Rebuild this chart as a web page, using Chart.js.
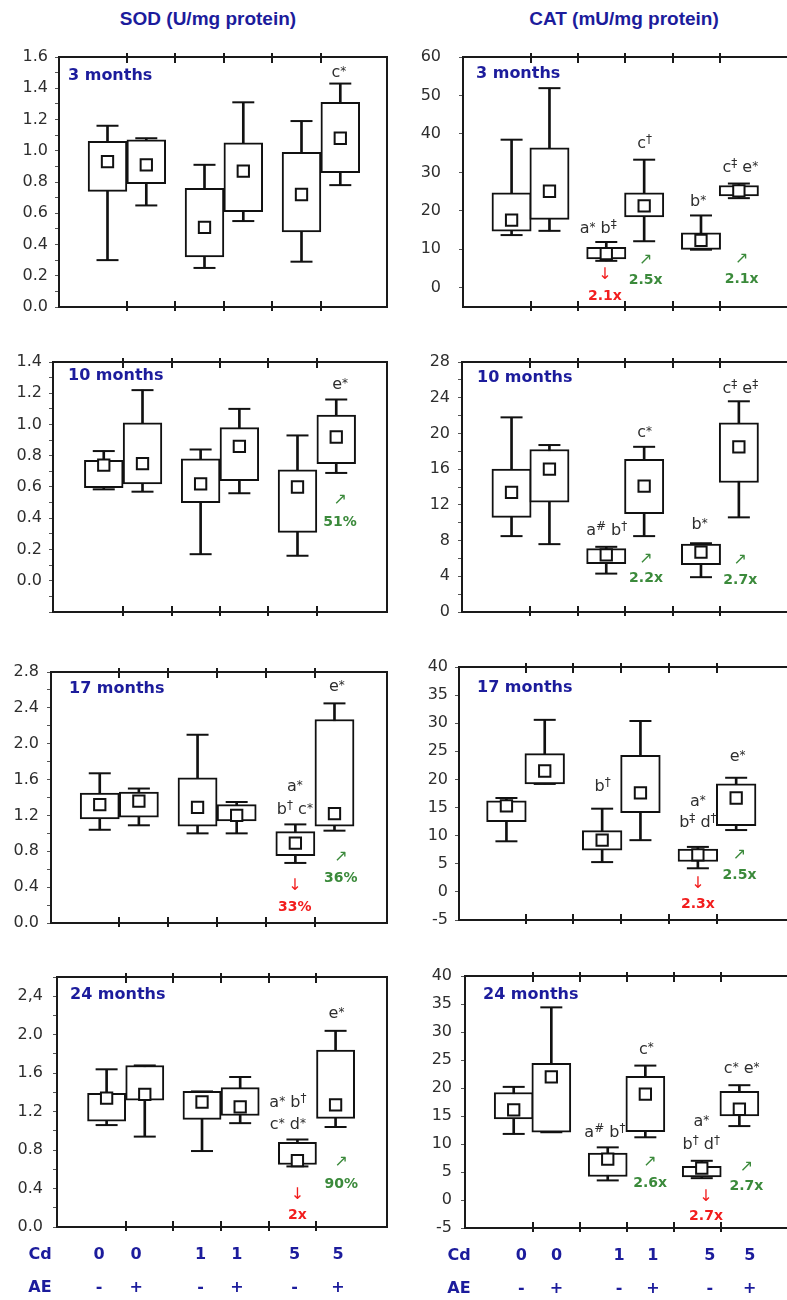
<!DOCTYPE html>
<html><head><meta charset="utf-8">
<script src="https://cdn.jsdelivr.net/npm/chart.js@4.4.0/dist/chart.umd.min.js"></script>
<style>
html,body{margin:0;padding:0;background:#fff;width:787px;height:1300px;overflow:hidden;position:relative}
canvas{position:absolute}
.hdr{position:absolute;top:8px;font:bold 19px "Liberation Sans Narrow","Liberation Sans",Arial,sans-serif;color:#1c1c9c;text-align:center;width:300px;white-space:nowrap}
</style></head><body>
<div class="hdr" style="left:58px">SOD (U/mg protein)</div>
<div class="hdr" style="left:474px">CAT (mU/mg protein)</div>
<script>
// ---------- categories ----------
const slotX = [1.0, 1.8, 3.0, 3.8, 5.0, 5.8];
const cdLabels = ['0','0','1','1','5','5'];
const aeLabels = ['-','+','-','+','-','+'];
const xTickMarks = [1.4, 2.4, 3.4, 4.4, 5.4];

// ---------- SOD 3 months ----------
const sod3Min = [0.30,0.65,0.25,0.55,0.29,0.78];
const sod3Q1  = [0.74,0.79,0.32,0.61,0.48,0.86];
const sod3Mid = [0.93,0.91,0.51,0.87,0.72,1.08];
const sod3Q3  = [1.06,1.07,0.76,1.05,0.99,1.31];
const sod3Max = [1.16,1.08,0.91,1.31,1.19,1.43];
const sod3Ticks = [0,0.2,0.4,0.6,0.8,1.0,1.2,1.4,1.6];
const sod3TickLabels = ['0.0','0.2','0.4','0.6','0.8','1.0','1.2','1.4','1.6'];
const sod3Notes = [[5.77,1.50,'c*','n']];

// ---------- CAT 3 months ----------
const cat3Min = [13.7,14.8,7.0,12.1,9.9,23.3];
const cat3Q1  = [14.7,17.8,7.5,18.4,10.0,23.9];
const cat3Mid = [17.6,25.1,8.9,21.3,12.3,25.2];
const cat3Q3  = [24.7,36.4,10.5,24.7,14.3,26.6];
const cat3Max = [38.5,51.9,11.9,33.3,18.8,27.1];
const cat3Ticks = [0,10,20,30,40,50,60];
const cat3TickLabels = ['0','10','20','30','40','50','60'];
const cat3Notes = [[2.83,15.4,'a* b‡','n'],[2.97,3.3,'↓','ra'],[2.97,-2.3,'2.1x','r'],[3.83,7.2,'↗','ga'],[3.83,2.0,'2.5x','g'],
  [3.81,37.5,'c†','n'],[4.94,22.3,'b*','n'],[5.83,31.2,'c‡ e*','n'],[5.86,7.6,'↗','ga'],[5.86,2.3,'2.1x','g']];

// ---------- SOD 10 months ----------
const sod10Min = [0.585,0.57,0.17,0.56,0.16,0.69];
const sod10Q1  = [0.595,0.62,0.50,0.64,0.31,0.75];
const sod10Mid = [0.74,0.75,0.62,0.86,0.60,0.92];
const sod10Q3  = [0.77,1.01,0.78,0.98,0.71,1.06];
const sod10Max = [0.83,1.22,0.84,1.10,0.93,1.16];
const sod10Ticks = [0,0.2,0.4,0.6,0.8,1.0,1.2,1.4];
const sod10TickLabels = ['0.0','0.2','0.4','0.6','0.8','1.0','1.2','1.4'];
const sod10Notes = [[5.88,1.256,'e*','n'],[5.88,0.52,'↗','ga'],[5.88,0.375,'51%','g']];

// ---------- CAT 10 months ----------
const cat10Min = [8.5,7.6,4.3,8.5,3.9,10.6];
const cat10Q1  = [10.6,12.3,5.4,11.0,5.3,14.5];
const cat10Mid = [13.4,16.0,6.4,14.1,6.7,18.5];
const cat10Q3  = [16.0,18.2,7.1,17.1,7.6,21.2];
const cat10Max = [21.8,18.7,7.3,18.5,7.7,23.6];
const cat10Ticks = [0,4,8,12,16,20,24,28];
const cat10TickLabels = ['0','4','8','12','16','20','24','28'];
const cat10Notes = [[3.01,9.06,'a# b†','n'],[3.84,6.0,'↗','ga'],[3.84,3.74,'2.2x','g'],[3.81,20.1,'c*','n'],[4.97,9.73,'b*','n'],
  [5.83,5.8,'↗','ga'],[5.83,3.56,'2.7x','g'],[5.83,25.0,'c‡ e‡','n']];

// ---------- SOD 17 months ----------
const sod17Min = [1.04,1.09,1.00,1.00,0.67,1.03];
const sod17Q1  = [1.16,1.18,1.08,1.14,0.75,1.08];
const sod17Mid = [1.32,1.36,1.29,1.20,0.89,1.22];
const sod17Q3  = [1.45,1.46,1.62,1.32,1.02,2.27];
const sod17Max = [1.67,1.50,2.10,1.35,1.10,2.45];
const sod17Ticks = [0,0.4,0.8,1.2,1.6,2.0,2.4,2.8];
const sod17TickLabels = ['0.0','0.4','0.8','1.2','1.6','2.0','2.4','2.8'];
const sod17Notes = [[4.99,1.517,'a*','n'],[4.99,1.264,'b† c*','n'],[4.99,0.42,'↓','ra'],[4.99,0.18,'33%','r'],
  [5.93,0.736,'↗','ga'],[5.93,0.495,'36%','g'],[5.85,2.633,'e*','n']];

// ---------- CAT 17 months ----------
const cat17Min = [9.0,19.2,5.3,9.2,4.2,11.0];
const cat17Q1  = [12.5,19.2,7.4,14.1,5.4,11.8];
const cat17Mid = [15.3,21.5,9.2,17.6,6.6,16.7];
const cat17Q3  = [16.2,24.6,10.9,24.3,7.6,19.2];
const cat17Max = [16.7,30.6,14.8,30.4,8.0,20.3];
const cat17Ticks = [-5,0,5,10,15,20,25,30,35,40];
const cat17TickLabels = ['-5','0','5','10','15','20','25','30','35','40'];
const cat17Notes = [[3.01,18.7,'b†','n'],[5.0,16.0,'a*','n'],[5.0,12.2,'b‡ d†','n'],[5.0,1.5,'↓','ra'],[5.0,-2.3,'2.3x','r'],
  [5.87,6.6,'↗','ga'],[5.87,3.0,'2.5x','g'],[5.83,24.0,'e*','n']];

// ---------- SOD 24 months ----------
const sod24Min = [1.06,0.94,0.79,1.08,0.63,1.04];
const sod24Q1  = [1.10,1.32,1.12,1.16,0.65,1.13];
const sod24Mid = [1.34,1.38,1.30,1.25,0.69,1.27];
const sod24Q3  = [1.39,1.68,1.41,1.45,0.88,1.84];
const sod24Max = [1.64,1.68,1.41,1.56,0.91,2.04];
const sod24Ticks = [0,0.4,0.8,1.2,1.6,2.0,2.4];
const sod24TickLabels = ['0.0','0.4','0.8','1.2','1.6','2.0','2,4'];
const sod24Notes = [[4.80,1.295,'a* b†','n'],[4.80,1.06,'c* d*','n'],[5.0,0.33,'↓','ra'],[5.0,0.12,'2x','r'],
  [5.92,0.673,'↗','ga'],[5.92,0.44,'90%','g'],[5.82,2.217,'e*','n']];

// ---------- CAT 24 months ----------
const cat24Min = [11.8,12.1,3.5,11.2,3.9,13.2];
const cat24Q1  = [14.5,12.1,4.2,12.2,4.1,15.0];
const cat24Mid = [16.1,22.0,7.3,18.9,5.7,16.2];
const cat24Q3  = [19.2,24.4,8.4,22.1,6.0,19.4];
const cat24Max = [20.2,34.4,9.4,24.0,7.0,20.5];
const cat24Ticks = [-5,0,5,10,15,20,25,30,35,40];
const cat24TickLabels = ['-5','0','5','10','15','20','25','30','35','40'];
const cat24Notes = [[2.94,12.0,'a# b†','n'],[3.90,6.9,'↗','ga'],[3.90,2.9,'2.6x','g'],[3.82,26.9,'c*','n'],[4.99,13.9,'a*','n'],
  [4.99,9.8,'b† d†','n'],[5.09,0.5,'↓','ra'],[5.09,-2.9,'2.7x','r'],[5.95,6.0,'↗','ga'],[5.95,2.4,'2.7x','g'],[5.85,23.5,'c* e*','n']];

// ---------- layout (page pixels) ----------
const panels = [
 {title:'3 months', d:[sod3Min,sod3Q1,sod3Mid,sod3Q3,sod3Max], notes:sod3Notes, ticks:sod3Ticks, labels:sod3TickLabels, yMin:0, yMax:1.6, minor:0.1,
  lay:{left:0,width:400,L:59,T:57,R:387,B:307,xmin:0,xmax:6.763,gap:11,tx:9,ty:19}},
 {title:'3 months', d:[cat3Min,cat3Q1,cat3Mid,cat3Q3,cat3Max], notes:cat3Notes, ticks:cat3Ticks, labels:cat3TickLabels, yMin:-5, yMax:60, minor:0,
  lay:{left:390,width:440,L:463,T:57,R:830,B:307,xmin:-0.026,xmax:7.45,gap:22,tx:13,ty:17}},
 {title:'10 months', d:[sod10Min,sod10Q1,sod10Mid,sod10Q3,sod10Max], notes:sod10Notes, ticks:sod10Ticks, labels:sod10TickLabels, yMin:-0.2, yMax:1.4, minor:0.1,
  lay:{left:0,width:400,L:53,T:362,R:387,B:612,xmin:-0.048,xmax:6.848,gap:11,tx:15,ty:14}},
 {title:'10 months', d:[cat10Min,cat10Q1,cat10Mid,cat10Q3,cat10Max], notes:cat10Notes, ticks:cat10Ticks, labels:cat10TickLabels, yMin:0, yMax:28, minor:2,
  lay:{left:390,width:440,L:462,T:362,R:830,B:612,xmin:-0.046,xmax:7.45,gap:12,tx:15,ty:16}},
 {title:'17 months', d:[sod17Min,sod17Q1,sod17Mid,sod17Q3,sod17Max], notes:sod17Notes, ticks:sod17Ticks, labels:sod17TickLabels, yMin:0, yMax:2.8, minor:0.2,
  lay:{left:0,width:400,L:51,T:672,R:387,B:923,xmin:0.003,xmax:6.874,gap:12,tx:18,ty:17}},
 {title:'17 months', d:[cat17Min,cat17Q1,cat17Mid,cat17Q3,cat17Max], notes:cat17Notes, ticks:cat17Ticks, labels:cat17TickLabels, yMin:-5, yMax:40, minor:0,
  lay:{left:390,width:440,L:459,T:667,R:830,B:920,xmin:0.009,xmax:7.489,gap:11,tx:18,ty:21}},
 {title:'24 months', d:[sod24Min,sod24Q1,sod24Mid,sod24Q3,sod24Max], notes:sod24Notes, ticks:sod24Ticks, labels:sod24TickLabels, yMin:0, yMax:2.6, minor:0.2,
  lay:{left:0,width:400,L:57,T:977,R:387,B:1227,xmin:-0.04,xmax:6.878,gap:14,tx:13,ty:18}, bottom:{headX:40, valX:[0.84,1.62,2.97,3.73,4.94,5.85]}},
 {title:'24 months', d:[cat24Min,cat24Q1,cat24Mid,cat24Q3,cat24Max], notes:cat24Notes, ticks:cat24Ticks, labels:cat24TickLabels, yMin:-5, yMax:40, minor:0,
  lay:{left:390,width:440,L:465,T:976,R:830,B:1228,xmin:-0.036,xmax:7.451,gap:13,tx:18,ty:19}, bottom:{headX:69, valX:[1.16,1.91,3.24,3.96,5.17,6.02]}}
];

const BLUE = '#1c1c9c', GREEN = '#3b8a3b', RED = '#f21d1d', INK = '#111', TXT = '#2e2e2e';
const FONT = '"DejaVu Sans", sans-serif';
const SUPS = '*†‡#';
const PADT = 32;

function drawRich(ctx, text, x, y, size, color) {
  ctx.fillStyle = color; ctx.textBaseline = 'middle'; ctx.textAlign = 'left';
  const parts = [...text].map(ch => ({ch, s: SUPS.includes(ch)}));
  let w = 0;
  parts.forEach(p => { ctx.font = (p.s ? Math.round(size*0.72) : size) + 'px ' + FONT; p.w = ctx.measureText(p.ch).width; w += p.w; });
  let cx = x - w / 2;
  parts.forEach(p => {
    ctx.font = (p.s ? Math.round(size*0.72) : size) + 'px ' + FONT;
    const dy = p.s ? (p.ch === '*' ? -1 : -4) : 0;
    ctx.fillText(p.ch, cx, y + dy); cx += p.w;
  });
}

const deco = {
  id: 'deco',
  afterDraw(chart) {
    const o = chart.options.plugins.deco;
    const ctx = chart.ctx, a = chart.chartArea, xs = chart.scales.x, ys = chart.scales.y;
    ctx.save();
    ctx.strokeStyle = '#1a1a1a'; ctx.lineWidth = 2;
    ctx.strokeRect(a.left, a.top, a.right - a.left, a.bottom - a.top);
    xTickMarks.forEach(v => {
      const px = Math.round(xs.getPixelForValue(v));
      ctx.beginPath();
      ctx.moveTo(px, a.top - 4); ctx.lineTo(px, a.top + 6);
      ctx.moveTo(px, a.bottom - 6); ctx.lineTo(px, a.bottom + 4);
      ctx.stroke();
    });
    ctx.font = 'bold 16px ' + FONT; ctx.fillStyle = BLUE; ctx.textBaseline = 'middle'; ctx.textAlign = 'left';
    ctx.fillText(o.title, a.left + o.tx, a.top + o.ty);
    o.notes.forEach(([x, y, t, k]) => {
      const px = xs.getPixelForValue(x), py = ys.getPixelForValue(y);
      if (k === 'n') { drawRich(ctx, t, px, py, 16, TXT); return; }
      ctx.textAlign = 'center'; ctx.textBaseline = 'middle';
      if (k === 'ra' || k === 'ga') { ctx.font = '16px ' + FONT; ctx.fillStyle = k === 'ra' ? RED : GREEN; }
      else { ctx.font = 'bold 14px ' + FONT; ctx.fillStyle = k === 'r' ? RED : GREEN; }
      ctx.fillText(t, px, py);
    });
    if (o.bottom) {
      ctx.font = 'bold 16px ' + FONT; ctx.fillStyle = BLUE; ctx.textAlign = 'center'; ctx.textBaseline = 'middle';
      const y1 = a.bottom + 28, y2 = a.bottom + 61;
      ctx.fillText('Cd', o.bottom.headX, y1);
      ctx.fillText('AE', o.bottom.headX, y2);
      o.bottom.valX.forEach((v, i) => {
        const px = xs.getPixelForValue(v);
        ctx.fillText(cdLabels[i], px, y1);
        ctx.fillText(aeLabels[i], px, y2);
      });
    }
    ctx.restore();
  }
};

panels.forEach(p => {
  const b = p.lay;
  const pb = p.bottom ? 75 : 32;
  const cv = document.createElement('canvas');
  cv.width = b.width; cv.height = b.B - b.T + PADT + pb;
  cv.style.left = b.left + 'px'; cv.style.top = (b.T - PADT) + 'px';
  cv.style.width = b.width + 'px'; cv.style.height = cv.height + 'px';
  document.body.appendChild(cv);
  const [mn, q1, md, q3, mx] = p.d;
  const boxW = 0.8 * (b.R - b.L) / (b.xmax - b.xmin);
  const allTicks = p.ticks.slice();
  if (p.minor) {
    const n = Math.round((p.yMax - p.yMin) / p.minor);
    for (let i = 0; i <= n; i++) {
      const v = +(p.yMin + i * p.minor).toFixed(4);
      if (!allTicks.some(t => Math.abs(t - v) < 1e-6)) allTicks.push(v);
    }
    allTicks.sort((u, w) => u - w);
  }
  new Chart(cv, {
    type: 'bar',
    data: {
      datasets: [
        { type: 'bar', data: slotX.map((x, i) => ({x, y: [q1[i], q3[i]]})), backgroundColor: '#fff', borderColor: INK,
          borderWidth: 2, borderSkipped: false, grouped: false, barThickness: boxW, order: 2 },
        { type: 'bar', data: slotX.map((x, i) => ({x, y: [mn[i], mx[i]]})), backgroundColor: INK, borderWidth: 0,
          grouped: false, barThickness: 2, order: 3 },
        { type: 'scatter', data: slotX.map((x, i) => ({x, y: mn[i]})).concat(slotX.map((x, i) => ({x, y: mx[i]}))),
          pointStyle: 'line', pointRadius: 11, pointBorderWidth: 2, pointBorderColor: INK, borderColor: INK, order: 1 },
        { type: 'scatter', data: slotX.map((x, i) => ({x, y: md[i]})), pointStyle: 'rect', pointRadius: 8,
          pointBorderWidth: 2, pointBorderColor: INK, pointBackgroundColor: '#fff', borderColor: INK, order: 0 }
      ]
    },
    options: {
      responsive: false, animation: false, devicePixelRatio: 1, events: [],
      layout: { padding: { top: PADT, bottom: pb, left: 0, right: b.width - (b.R - b.left) } },
      plugins: { legend: { display: false }, tooltip: { enabled: false },
        deco: { title: p.title, notes: p.notes, tx: b.tx, ty: b.ty, bottom: p.bottom } },
      scales: {
        x: { type: 'linear', display: false, min: b.xmin, max: b.xmax, offset: false },
        y: { type: 'linear', min: p.yMin, max: p.yMax,
          afterBuildTicks: s => { s.ticks = allTicks.map(v => ({value: v})); },
          afterFit: s => { s.width = b.L - b.left; },
          border: { display: false },
          grid: { drawOnChartArea: false, drawTicks: true, tickLength: 4, color: '#555', lineWidth: 1 },
          ticks: { autoSkip: false, padding: b.gap - 4, color: TXT, font: { family: 'DejaVu Sans', size: 16 },
            callback: v => { const i = p.ticks.findIndex(t => Math.abs(t - v) < 1e-6); return i >= 0 ? p.labels[i] : ''; } }
        }
      }
    },
    plugins: [deco]
  });
});
</script>
</body></html>
